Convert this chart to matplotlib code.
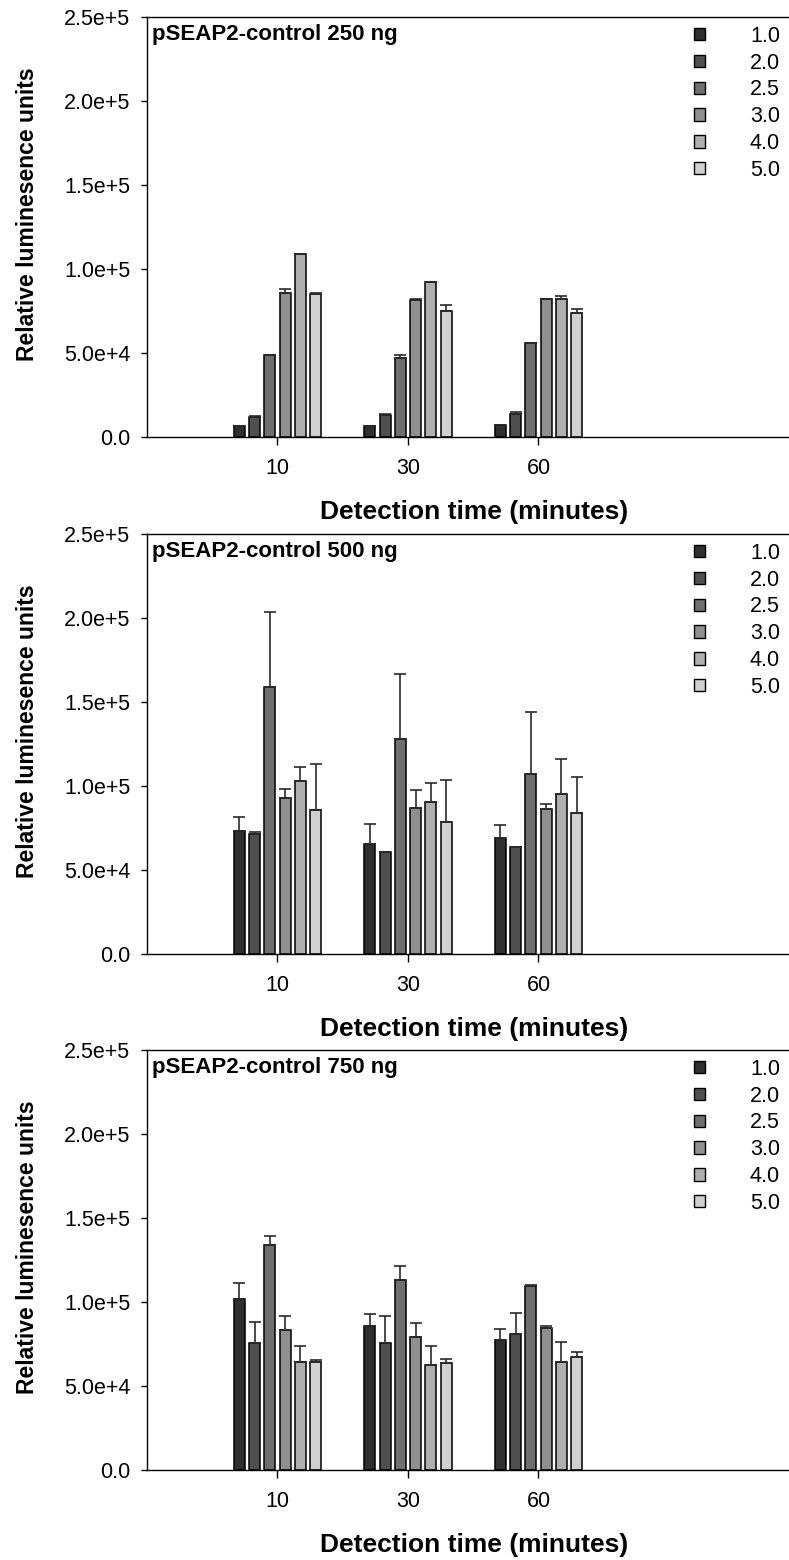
import numpy as np
import matplotlib
matplotlib.use('Agg')
import matplotlib.pyplot as plt
from matplotlib.patches import Patch

plt.rcParams['font.family'] = ['Liberation Sans', 'DejaVu Sans']

times = ['10', '30', '60']
ratios = ['1.0', '2.0', '2.5', '3.0', '4.0', '5.0']
colors = ['#2f2f2f', '#4f4f4f', '#6f6f6f', '#8f8f8f', '#afafaf', '#d0d0d0']
titles = ['pSEAP2-control 250 ng', 'pSEAP2-control 500 ng', 'pSEAP2-control 750 ng']

# mean values, one row per ratio, columns = detection time 10, 30, 60
mean_250 = [[6500, 6500, 7300],
            [11700, 12900, 13900],
            [48600, 47200, 56000],
            [85500, 81700, 82100],
            [108700, 92000, 82300],
            [85100, 74800, 74000]]
err_250 = [[0, 0, 0],
           [800, 500, 800],
           [500, 1600, 0],
           [2700, 500, 0],
           [500, 500, 1800],
           [500, 3600, 2200]]

mean_500 = [[73000, 65300, 68800],
            [71400, 60900, 63500],
            [158700, 128200, 107100],
            [92700, 86900, 86500],
            [103200, 90500, 95000],
            [85500, 78800, 83700]]
err_500 = [[8700, 11900, 7700],
           [1000, 0, 0],
           [45000, 38500, 37000],
           [5700, 10700, 2800],
           [8100, 11500, 20900],
           [27800, 25000, 21500]]

mean_750 = [[101600, 85500, 77200],
            [75800, 75400, 81000],
            [134100, 112900, 109500],
            [83500, 79400, 84300],
            [64500, 62700, 64500],
            [64100, 63900, 67100]]
err_750 = [[9500, 7100, 6900],
           [12000, 16500, 12600],
           [5400, 8700, 500],
           [8300, 8100, 1200],
           [9500, 11300, 11900],
           [1600, 2200, 3400]]

means = [mean_250, mean_500, mean_750]
errs = [err_250, err_500, err_750]

fig = plt.figure(figsize=(7.89, 15.6), dpi=100)
W, H = 789, 1560
tops = [17, 534, 1050]
left = 147

x = np.arange(1, len(times) + 1)
pitch = 0.117
width = 0.084

for k in range(3):
    top = tops[k]
    ax = fig.add_axes([left / W, 1 - (top + 420) / H, (W - left) / W, 420 / H])
    for i in range(len(ratios)):
        pos = x + (i - 2.5) * pitch
        m = np.array(means[k][i])
        e = np.array(errs[k][i])
        ax.bar(pos, m, width, color=colors[i], edgecolor='black', linewidth=1.1, zorder=2)
        ax.errorbar(pos, m, yerr=[np.zeros_like(e), e], fmt='none', ecolor='#2a2a2a',
                    elinewidth=1.2, capsize=4, capthick=1.2, zorder=3)
    ax.set_xlim(0, 4.92)
    ax.set_ylim(0, 250000)
    ax.set_xticks(x)
    ax.set_xticklabels(times)
    ax.set_yticks([0, 50000, 100000, 150000, 200000, 250000])
    ax.set_yticklabels(['0.0', '5.0e+4', '1.0e+5', '1.5e+5', '2.0e+5', '2.5e+5'])
    ax.spines['right'].set_visible(False)
    for s in ['top', 'left', 'bottom']:
        ax.spines[s].set_linewidth(1.0)
    ax.tick_params(axis='x', length=6, width=1, pad=9, labelsize=15.5)
    ax.tick_params(axis='y', length=4, width=1, pad=8, labelsize=15.5)
    ax.set_xlabel('Detection time (minutes)', fontsize=19, fontweight='bold')
    ax.xaxis.set_label_coords((474 - left) / (W - left), -75 / 420)
    ax.xaxis.label.set_va('center')
    ax.set_ylabel('Relative luminesence units', fontsize=16.5, fontweight='bold')
    ax.yaxis.set_label_coords((28 - left) / (W - left), 0.53)
    ax.yaxis.label.set_va('center')
    ax.text(5 / (W - left), 0.983, titles[k], transform=ax.transAxes,
            ha='left', va='top', fontsize=16, fontweight='bold')
    handles = [Patch(facecolor=colors[i], edgecolor='black', linewidth=1.0) for i in range(len(ratios))]
    ax.legend(handles, ratios, loc='upper left', bbox_to_anchor=((694 - left) / (W - left), 0.979),
              frameon=False, fontsize=15.5, handlelength=0.5, handleheight=0.5,
              handletextpad=2.1, labelspacing=0.27, borderpad=0, borderaxespad=0)

fig.savefig('out.png', dpi=100)
